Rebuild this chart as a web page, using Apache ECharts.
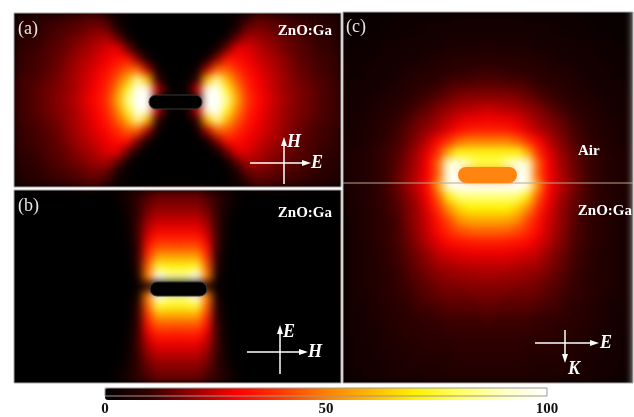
<!DOCTYPE html>
<html>
<head>
<meta charset="utf-8">
<script src="https://cdn.jsdelivr.net/npm/echarts@6/dist/echarts.min.js"></script>
<style>
html, body { margin: 0; padding: 0; background: #fff; }
#wrap { position: relative; width: 634px; height: 417px; }
#field, #chart { position: absolute; left: 0; top: 0; width: 634px; height: 417px; }
/* the maps are read on a coarse grid, soften the cell steps and keep them inside the panels */
#field {
  filter: blur(4px);
  clip-path: path('M14 13H341V187H14Z M14 190H341V383H14Z M343 12H633V383H343Z');
}
</style>
</head>
<body>
<div id="wrap">
  <div id="field"></div>
  <div id="chart"></div>
</div>
<script>
// |E| map of panel (a), top-left quarter: 9 rows x 17 cols, last row / last col sit on the centre lines
const quadA = [
  [6, 7, 8, 9, 10, 11, 12, 13, 13, 9, 3, 1, 0, 0, 0, 0, 0],
  [7, 8, 9, 11, 12, 13, 14, 16, 17, 15, 5, 1, 0, 0, 0, 0, 0],
  [8, 9, 10, 12, 13, 15, 17, 19, 21, 22, 15, 4, 0, 0, 0, 0, 0],
  [9, 10, 11, 13, 14, 16, 19, 21, 24, 27, 28, 16, 4, 0, 0, 0, 0],
  [10, 11, 12, 13, 15, 18, 21, 23, 26, 29, 32, 33, 18, 4, 0, 0, 0],
  [10, 11, 12, 14, 16, 19, 22, 25, 28, 32, 38, 45, 45, 22, 3, 0, 0],
  [11, 12, 13, 15, 17, 20, 23, 26, 30, 35, 45, 60, 85, 60, 10, 1, 0],
  [11, 12, 14, 16, 18, 20, 23, 27, 31, 38, 52, 75, 100, 95, 25, 4, 0],
  [11, 12, 14, 16, 18, 21, 24, 28, 32, 40, 58, 85, 100, 100, 0, 0, 0]
];

// panel (b), top-left quarter: 10 rows x 17 cols
const quadB = [
  [0, 0, 0, 0, 0, 0, 0, 0, 0, 0, 2, 5, 9, 12, 15, 15, 15],
  [0, 0, 0, 0, 0, 0, 0, 0, 0, 0, 1, 4, 10, 15, 18, 18, 18],
  [0, 0, 0, 0, 0, 0, 0, 0, 0, 0, 0, 3, 10, 18, 22, 22, 22],
  [0, 0, 0, 0, 0, 0, 0, 0, 0, 0, 0, 2, 11, 22, 27, 27, 27],
  [0, 0, 0, 0, 0, 0, 0, 0, 0, 0, 0, 1, 11, 26, 33, 33, 33],
  [0, 0, 0, 0, 0, 0, 0, 0, 0, 0, 0, 1, 10, 32, 42, 42, 42],
  [0, 0, 0, 0, 0, 0, 0, 0, 0, 0, 0, 0, 9, 38, 55, 55, 55],
  [0, 0, 0, 0, 0, 0, 0, 0, 0, 0, 0, 0, 8, 45, 75, 72, 72],
  [0, 0, 0, 0, 0, 0, 0, 0, 0, 0, 0, 0, 4, 50, 100, 88, 85],
  [0, 0, 0, 0, 0, 0, 0, 0, 0, 0, 0, 0, 1, 8, 0, 0, 0]
];

// panel (c), left half: 33 rows x 15 cols, last col on the centre line (rod in row 14)
const halfC = [
  [2, 2, 2, 2, 2, 3, 3, 3, 3, 3, 3, 4, 4, 4, 4],
  [2, 2, 2, 2, 3, 3, 3, 3, 4, 4, 4, 4, 4, 4, 4],
  [2, 2, 3, 3, 3, 3, 4, 4, 4, 4, 5, 5, 5, 5, 5],
  [2, 3, 3, 3, 4, 4, 4, 4, 5, 5, 6, 6, 6, 6, 7],
  [3, 3, 3, 4, 4, 4, 5, 5, 6, 7, 7, 8, 8, 8, 8],
  [3, 3, 4, 4, 4, 5, 6, 7, 7, 8, 9, 10, 10, 11, 11],
  [3, 4, 4, 4, 5, 6, 7, 8, 9, 10, 12, 13, 13, 14, 14],
  [4, 4, 4, 5, 6, 7, 8, 10, 11, 13, 15, 17, 18, 18, 18],
  [4, 4, 5, 6, 7, 8, 10, 12, 14, 17, 19, 21, 22, 23, 24],
  [4, 5, 5, 7, 8, 10, 12, 15, 17, 20, 23, 26, 28, 28, 29],
  [4, 5, 6, 7, 9, 11, 14, 17, 20, 23, 27, 31, 34, 35, 35],
  [4, 5, 6, 8, 10, 12, 15, 19, 24, 31, 38, 46, 50, 50, 50],
  [5, 6, 7, 9, 11, 13, 17, 22, 28, 38, 58, 72, 72, 72, 72],
  [5, 6, 7, 9, 11, 14, 18, 23, 30, 46, 92, 95, 88, 78, 78],
  [5, 6, 7, 9, 11, 15, 19, 24, 30, 45, 95, 100, 52, 52, 52],
  [5, 6, 7, 9, 12, 15, 20, 25, 32, 55, 95, 100, 100, 100, 100],
  [5, 6, 7, 9, 11, 14, 18, 23, 30, 44, 68, 80, 82, 82, 82],
  [5, 5, 7, 8, 11, 13, 17, 21, 28, 38, 52, 64, 70, 70, 70],
  [4, 5, 7, 8, 10, 12, 17, 21, 26, 33, 42, 52, 57, 58, 58],
  [4, 5, 7, 8, 10, 12, 16, 20, 25, 31, 37, 42, 45, 46, 46],
  [4, 5, 6, 8, 10, 12, 15, 19, 23, 27, 31, 33, 34, 35, 35],
  [4, 5, 6, 7, 9, 11, 14, 17, 20, 24, 26, 27, 28, 28, 28],
  [4, 5, 6, 7, 9, 11, 13, 16, 18, 21, 22, 23, 24, 24, 24],
  [4, 5, 6, 7, 8, 10, 12, 14, 16, 18, 19, 20, 20, 21, 21],
  [4, 5, 6, 7, 8, 10, 11, 13, 14, 16, 17, 17, 18, 18, 18],
  [4, 5, 5, 7, 8, 9, 10, 12, 13, 14, 15, 15, 15, 16, 16],
  [4, 4, 5, 6, 7, 8, 9, 11, 11, 12, 13, 13, 13, 13, 14],
  [4, 4, 5, 6, 7, 8, 8, 9, 10, 10, 11, 11, 11, 11, 12],
  [4, 4, 5, 5, 6, 7, 8, 8, 9, 9, 10, 10, 10, 10, 10],
  [3, 4, 4, 5, 6, 6, 7, 7, 8, 8, 8, 9, 9, 9, 9],
  [3, 4, 4, 5, 5, 6, 6, 7, 7, 7, 7, 8, 8, 8, 8],
  [3, 4, 4, 4, 5, 5, 6, 6, 6, 6, 7, 7, 7, 7, 7],
  [3, 3, 4, 4, 5, 5, 5, 5, 6, 6, 6, 6, 6, 6, 6]
];

const barTicks = [0, 50, 100];
const hotColors = ['#000000', '#330000', '#990000', '#ff0000', '#ff3a00', '#ff8000',
  '#ffb800', '#fff000', '#ffff60', '#ffffc0', '#ffffff'];

const serif = 'Liberation Serif';

function mirrorCols(rows) {
  return rows.map(r => r.concat(r.slice(0, -1).reverse()));
}
function mirrorRows(rows) {
  return rows.concat(rows.slice(0, -1).reverse());
}
function toCells(grid) {
  const out = [];
  grid.forEach((row, y) => row.forEach((v, x) => out.push([x, y, v])));
  return out;
}
function idx(n) {
  return Array.from({ length: n }, (_, i) => String(i));
}

const gridA = mirrorRows(mirrorCols(quadA));
const gridB = mirrorRows(mirrorCols(quadB));
const gridC = mirrorCols(halfC);

const panels = [
  { grid: gridA, box: { left: 14, top: 13, width: 327, height: 174 } },
  { grid: gridB, box: { left: 14, top: 190, width: 327, height: 193 } },
  { grid: gridC, box: { left: 343, top: 12, width: 290, height: 371 } }
];

// ---- bottom layer: the field maps ----
const field = echarts.init(document.getElementById('field'));
field.setOption({
  animation: false,
  backgroundColor: '#000',
  grid: panels.map(p => Object.assign({ show: false }, p.box)),
  xAxis: panels.map((p, i) => ({ gridIndex: i, type: 'category', data: idx(p.grid[0].length), show: false })),
  yAxis: panels.map((p, i) => ({ gridIndex: i, type: 'category', data: idx(p.grid.length), inverse: true, show: false })),
  visualMap: {
    type: 'continuous', show: false, min: 0, max: 100, seriesIndex: [0, 1, 2],
    inRange: { color: hotColors }
  },
  series: panels.map((p, i) => ({
    type: 'heatmap', xAxisIndex: i, yAxisIndex: i, data: toCells(p.grid),
    emphasis: { disabled: true }
  }))
});

// ---- top layer: frames, rods, labels, colour bar ----
function txt(x, y, s, opt) {
  return { type: 'text', x: x, y: y, z: 100, style: Object.assign({
    text: s, fill: '#fff', fontFamily: serif, fontWeight: 'bold', fontSize: 15 }, opt || {}) };
}
function seg(x1, y1, x2, y2) {
  return { type: 'line', z: 100, shape: { x1, y1, x2, y2 }, style: { stroke: '#fff', lineWidth: 1.5 } };
}
function head(pts) {
  return { type: 'polygon', z: 100, shape: { points: pts }, style: { fill: '#fff' } };
}
function rod(x, y, w, h, fill, edge) {
  return { type: 'rect', z: 95, shape: { x, y, width: w, height: h, r: h / 2 },
    style: { fill: fill, stroke: edge, lineWidth: edge ? 1 : 0 } };
}
const italic = { fontStyle: 'italic', fontSize: 18 };
const label = { fontWeight: 'normal', fontSize: 18, fill: '#e6e6e6' };

const graphics = [
  // Air / ZnO:Ga interface in (c)
  { type: 'line', z: 90, shape: { x1: 343, y1: 183, x2: 633, y2: 183 }, style: { stroke: '#b8a890', lineWidth: 1 } },
  rod(149, 95, 53, 14, '#000', '#3a3a3a'),
  rod(150, 282, 57, 14, '#000', '#3a3a3a'),
  rod(458, 167, 59, 16, '#ff8410', null),
  txt(18, 20, '(a)', label),
  txt(332, 24, 'ZnO:Ga', { align: 'right' }),
  txt(18, 197, '(b)', label),
  txt(332, 206, 'ZnO:Ga', { align: 'right' }),
  txt(346, 18, '(c)', label),
  txt(578, 144, 'Air'),
  txt(632, 204, 'ZnO:Ga', { align: 'right' }),
  // (a) H up, E right
  seg(284, 184, 284, 142), head([[284, 137], [281, 146], [287, 146]]),
  seg(250, 163, 305, 163), head([[311, 163], [302, 160], [302, 166]]),
  txt(287, 133, 'H', italic), txt(311, 154, 'E', italic),
  // (b) E up, H right
  seg(280, 374, 280, 330), head([[280, 325], [277, 334], [283, 334]]),
  seg(247, 352, 302, 352), head([[308, 352], [299, 349], [299, 355]]),
  txt(283, 323, 'E', italic), txt(308, 343, 'H', italic),
  // (c) E right, K down
  seg(535, 343, 593, 343), head([[599, 343], [590, 340], [590, 346]]),
  seg(565, 330, 565, 357), head([[565, 363], [562, 354], [568, 354]]),
  txt(600, 334, 'E', italic), txt(568, 360, 'K', italic)
];

const grids = panels.map(p => Object.assign({
  show: true, backgroundColor: 'transparent', borderColor: '#a8a8a8', borderWidth: 1
}, p.box));
grids.push({ left: 105, top: 388, width: 442, height: 12, show: true,
  backgroundColor: 'transparent', borderColor: '#999', borderWidth: 1, z: 10 });

const xAxes = panels.map((p, i) => ({ gridIndex: i, type: 'value', show: false, min: 0, max: 1 }));
xAxes.push({
  gridIndex: 3, type: 'value', min: barTicks[0], max: barTicks[barTicks.length - 1],
  interval: 50, axisLine: { show: false }, axisTick: { show: false }, splitLine: { show: false },
  axisLabel: { fontFamily: serif, fontWeight: 'bold', fontSize: 15, color: '#111', margin: 6 }
});
const yAxes = [0, 1, 2, 3].map(i => ({ gridIndex: i, type: 'value', show: false, min: 0, max: 1 }));

const chart = echarts.init(document.getElementById('chart'));
chart.setOption({
  animation: false,
  grid: grids,
  xAxis: xAxes,
  yAxis: yAxes,
  visualMap: {
    type: 'continuous', min: 0, max: 100, seriesIndex: [],
    orient: 'horizontal', left: 105, top: 388, itemWidth: 12, itemHeight: 442,
    calculable: false, hoverLink: false, padding: 0, text: null,
    inRange: { color: hotColors }
  },
  series: [],
  graphic: graphics
});
</script>
</body>
</html>
